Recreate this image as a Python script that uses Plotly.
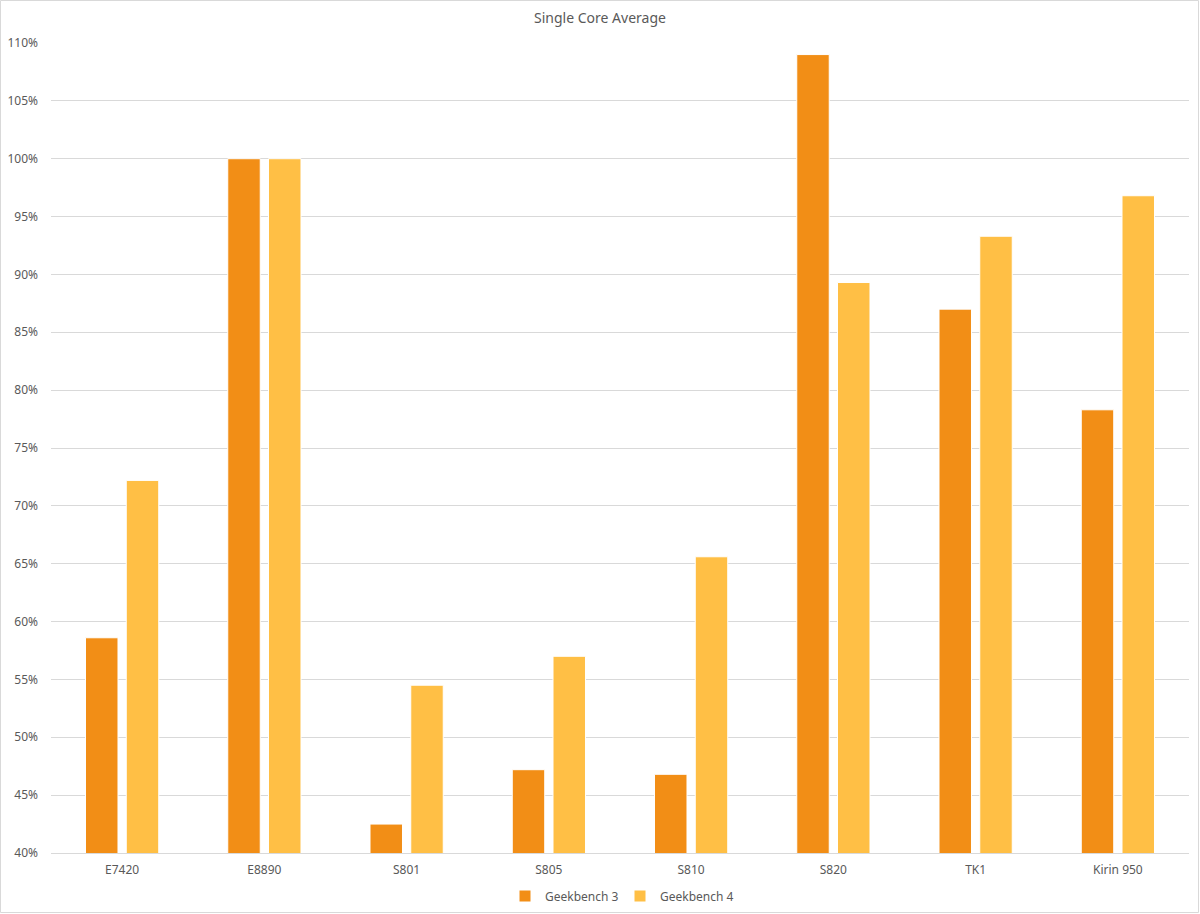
import plotly.graph_objects as go

categories = ["E7420", "E8890", "S801", "S805", "S810", "S820", "TK1", "Kirin 950"]
geekbench3 = [0.586, 1.000, 0.425, 0.472, 0.468, 1.090, 0.870, 0.783]
geekbench4 = [0.722, 1.000, 0.545, 0.570, 0.656, 0.893, 0.933, 0.968]

W, H = 1200, 914
ml, mr, mt, mb = 51, 11, 43, 61

fig = go.Figure()
fig.add_trace(go.Bar(x=categories, y=geekbench3, name="Geekbench 3",
                     marker=dict(color="#F28E16", line=dict(color="#FFFFFF", width=1))))
fig.add_trace(go.Bar(x=categories, y=geekbench4, name="Geekbench 4",
                     marker=dict(color="#FFBF45", line=dict(color="#FFFFFF", width=1))))

pw = W - ml - mr
ph = H - mt - mb
fig.add_shape(type="rect", xref="paper", yref="paper",
              x0=(-ml + 0.5) / pw, x1=1 + (mr - 1.5) / pw,
              y0=(-mb + 1.5) / ph, y1=1 + (mt - 0.5) / ph,
              line=dict(color="#D9D9D9", width=1), layer="below")

fig.update_layout(
    width=W, height=H,
    margin=dict(l=ml, r=mr, t=mt, b=mb, autoexpand=False),
    paper_bgcolor="white", plot_bgcolor="white",
    font=dict(family="Noto Sans", size=12, color="#595959"),
    title=dict(text="Single Core Average", x=0.5, xanchor="center", y=1 - 18 / H, yanchor="middle",
               font=dict(size=14, color="#595959")),
    barmode="group", bargap=0.427, bargroupgap=0.203,
    legend=dict(orientation="h", x=0.5, xanchor="center", yref="container", y=1 - 896 / H,
                yanchor="middle", font=dict(size=12, color="#595959"), itemwidth=30, entrywidth=70),
    showlegend=True,
)
fig.update_yaxes(range=[0.40, 1.10], dtick=0.05, tickformat=".0%", showgrid=True, automargin=False,
                 gridcolor="#D9D9D9", zeroline=False, showline=False, ticks="", ticklabelstandoff=12)
fig.update_xaxes(showline=True, linecolor="#D9D9D9", showgrid=False, ticks="", ticklabelstandoff=6,
                 automargin=False)

fig.write_html("out.html", config={"displayModeBar": False},
               post_script="document.body.style.margin='0';document.body.style.overflow='hidden';")
